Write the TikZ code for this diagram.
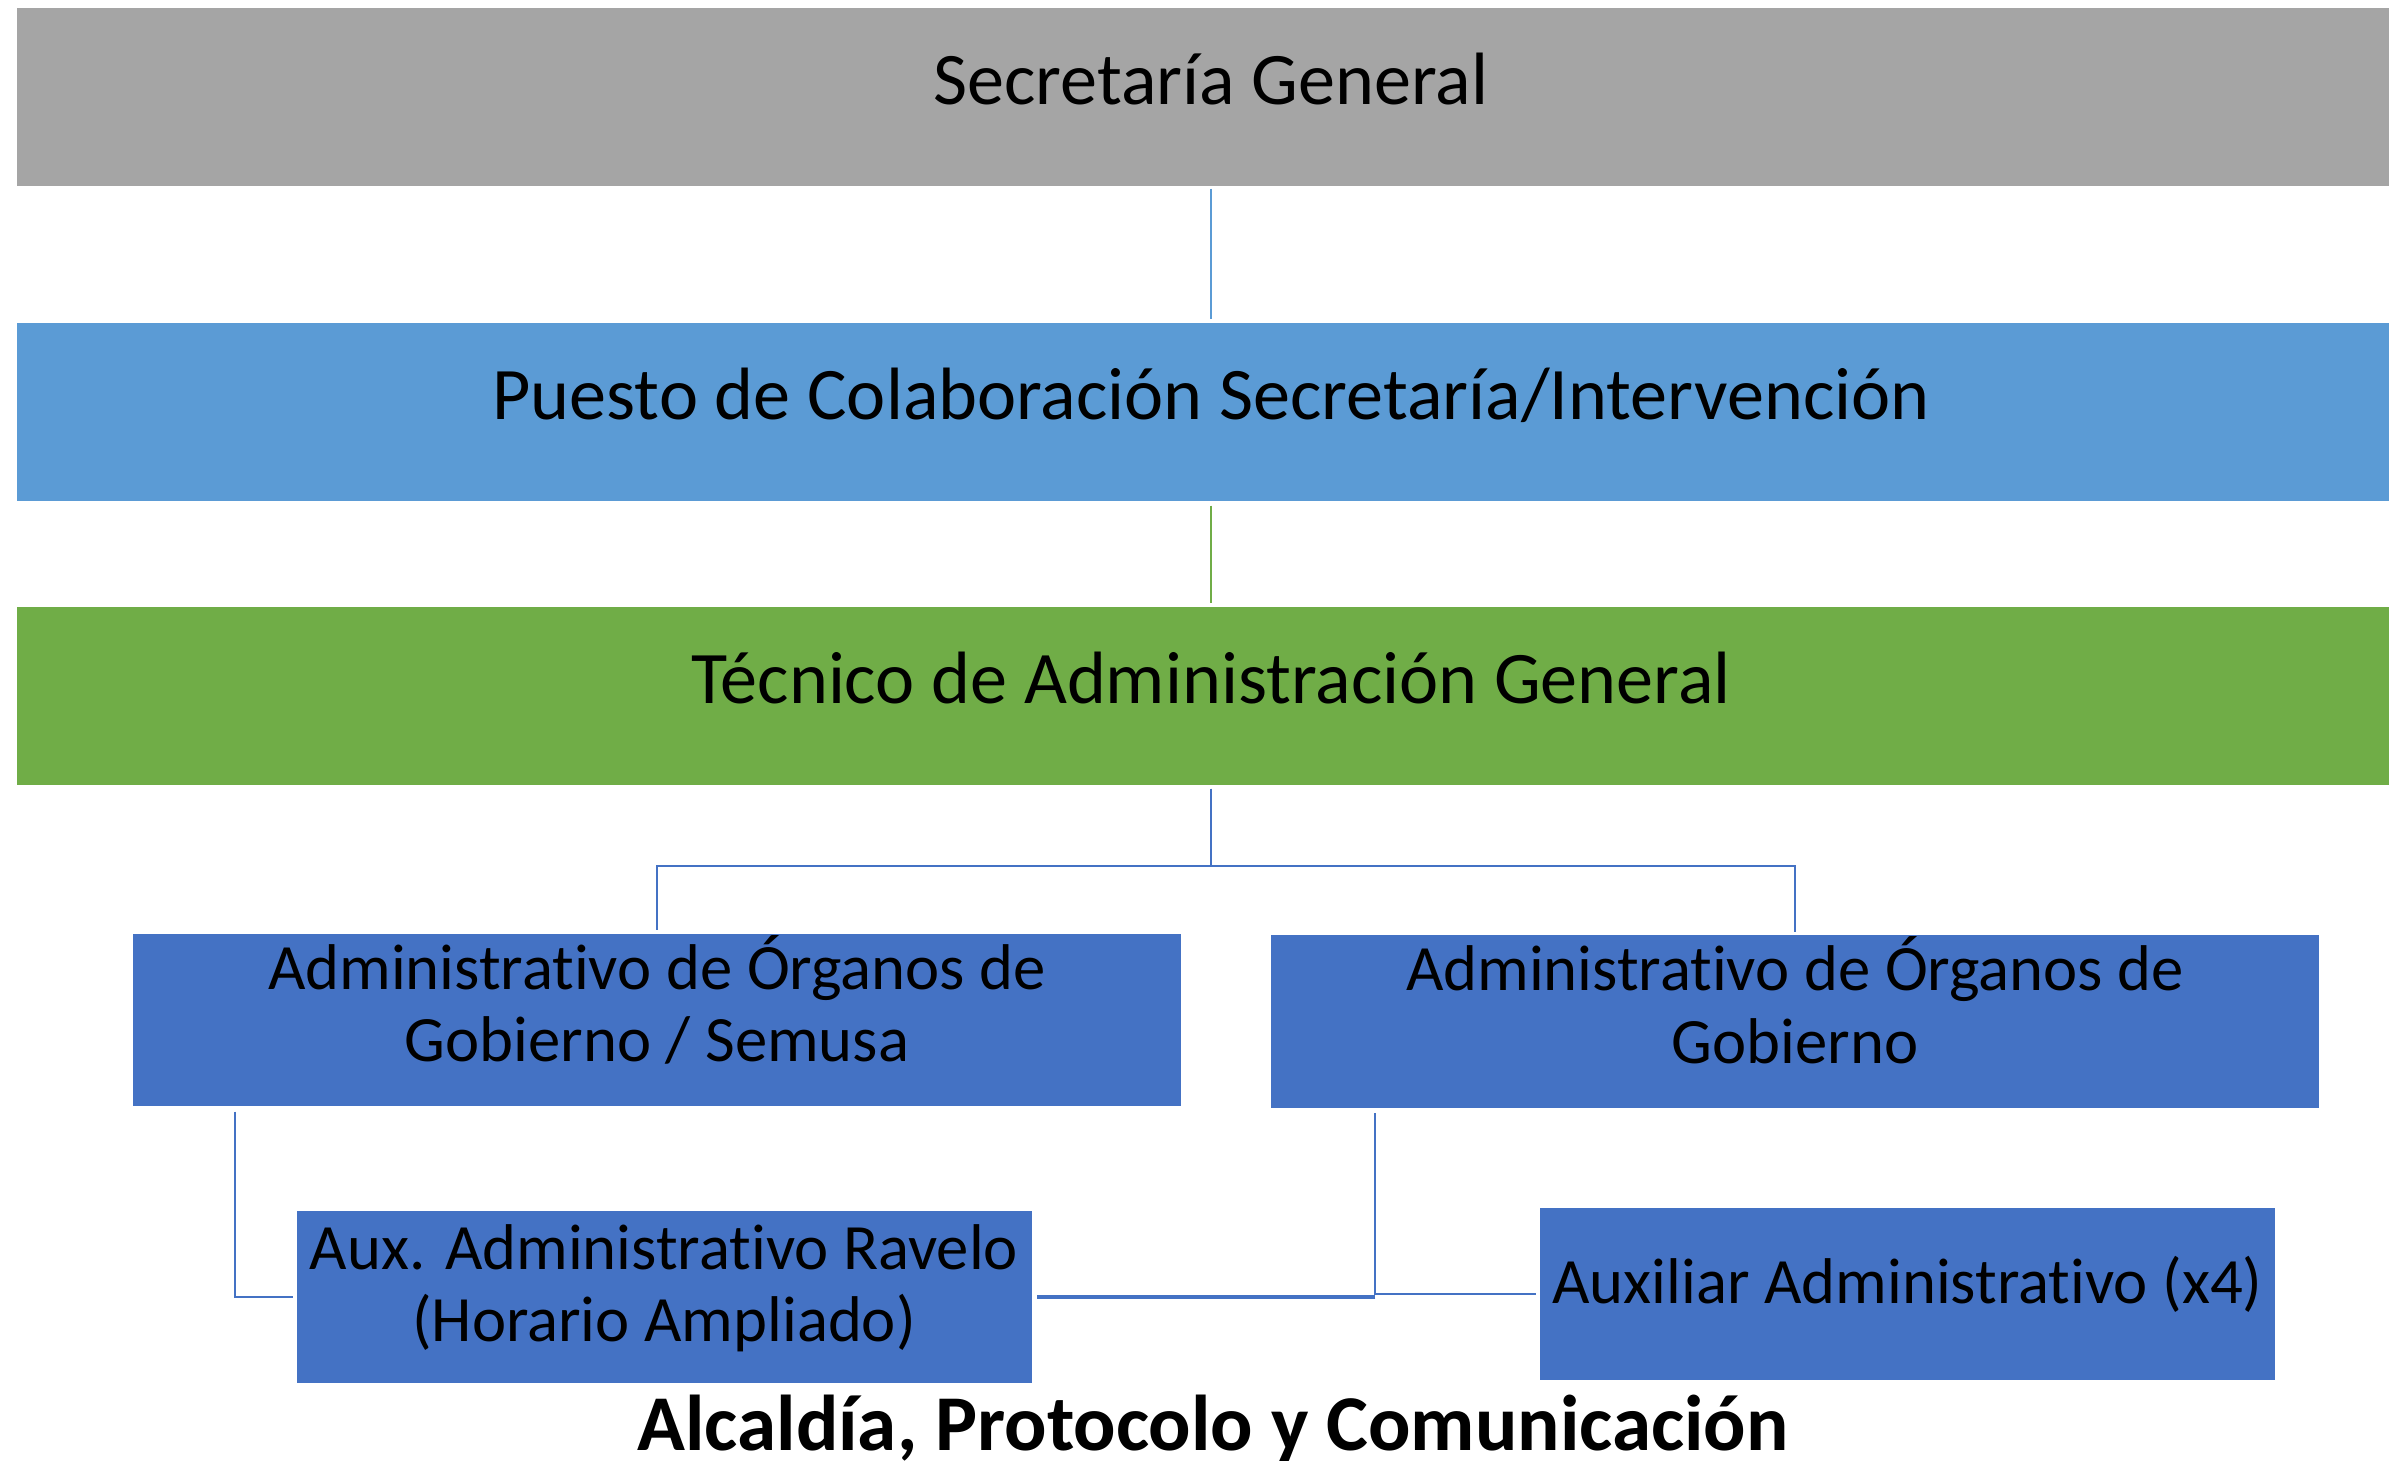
\documentclass[tikz,border=0pt]{standalone}
\usepackage{fontspec}
\setmainfont[Ligatures=NoCommon,RawFeature={-liga;-calt;-dlig}]{Carlito}
\definecolor{gris}{HTML}{A5A5A5}
\definecolor{azul}{HTML}{5B9BD5}
\definecolor{verde}{HTML}{70AD47}
\definecolor{azulosc}{HTML}{4472C4}
\begin{document}
\begin{tikzpicture}[
  jefe/.style={rectangle,inner sep=0pt,minimum width=23.88cm,text height=0.97cm,text depth=0.81cm,anchor=base,font=\fontsize{21.1}{25}\selectfont},
  cargo/.style={rectangle,fill=azulosc,inner sep=0pt,minimum width=10.48cm,minimum height=1.72cm,text depth=0.43cm,align=center,font=\fontsize{18.4}{20.5}\selectfont},
  aux/.style={rectangle,fill=azulosc,inner sep=0pt,minimum width=7.35cm,align=center,font=\fontsize{18.4}{20.5}\selectfont},
  linea/.style={draw=azulosc,line width=0.6pt}]
\useasboundingbox (0,0) rectangle (23.89,-14.61);
% niveles superiores
\node [jefe,fill=gris] (sg) at (12.11,-1.05) {Secretaría General};
\node [jefe,fill=azul] (pc) at (12.11,-4.20) {Puesto de Colaboración Secretaría/Intervención};
\node [jefe,fill=verde] (tag) at (12.11,-7.04) {Técnico de Administración General};
% administrativos
\node [cargo] (aog1) at (6.57,-10.20) {Administrativo de Órganos de\\Gobierno / Semusa};
\node [cargo] (aog2) at (17.95,-10.215) {Administrativo de Órganos de\\Gobierno};
% auxiliares
\node [aux,minimum height=1.72cm,text depth=0.28cm] (rav) at (6.64,-12.97) {Aux. Administrativo Ravelo\\(Horario Ampliado)};
\node [aux,text height=0.95cm,text depth=0.77cm,anchor=base] (aux4) at (19.075,-13.03) {Auxiliar Administrativo (x4)};
\node [anchor=base,font=\fontsize{22.5}{26}\selectfont\bfseries] (titulo) at (12.13,-14.50) {Alcaldía, Protocolo y Comunicación};
% conectores
\draw [draw=azul,line width=0.6pt] ([yshift=-0.02cm]sg.south) -- ([yshift=0.03cm]pc.north);
\draw [draw=verde,line width=0.6pt] ([yshift=-0.04cm]pc.south) -- ([yshift=0.03cm]tag.north);
\draw [linea] ([yshift=-0.03cm]tag.south) -- ++(0,-0.77) -| ([yshift=0.03cm]aog1.north);
\draw [linea] ([yshift=-0.03cm]tag.south) -- ++(0,-0.77) -| ([yshift=0.03cm]aog2.north);
\draw [linea] ([xshift=1.03cm,yshift=-0.05cm]aog1.south west) |- ([xshift=-0.03cm]rav.west);
\draw [linea] ([xshift=1.05cm,yshift=-0.05cm]aog2.south west) |- ([xshift=-0.03cm]aux4.west);
\draw [linea,line width=1pt] ([xshift=1.05cm]aog2.south west |- rav.east) -- ([xshift=0.05cm]rav.east);
\end{tikzpicture}
\end{document}
